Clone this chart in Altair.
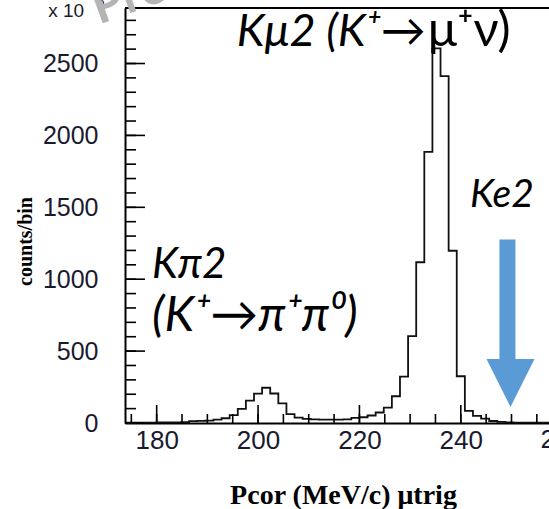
import altair as alt
import pandas as pd

# ---------------- data ----------------
bin_lo = [173.6, 175.2, 176.8, 178.4, 180.0, 181.6, 183.2, 184.8, 186.4, 188.0,
          189.6, 191.2, 192.8, 194.4, 196.0, 197.6, 199.2, 200.8, 202.4, 204.0,
          205.6, 207.2, 208.8, 210.4, 212.0, 213.6, 215.2, 216.8, 218.4, 220.0,
          221.6, 223.2, 224.8, 226.4, 228.0, 229.6, 231.2, 232.8, 234.4, 236.0,
          237.6, 239.2, 240.8, 242.4, 244.0, 245.6, 247.2, 248.8, 250.4, 252.0,
          253.6, 255.2, 256.8]
bin_hi_last = 258.4
counts = [2, 2, 3, 3, 4, 4, 5, 6, 13, 15,
          17, 24, 33, 55, 98, 156, 204, 245, 205, 136,
          62, 38, 29, 25, 24, 23, 24, 25, 35, 40,
          52, 73, 107, 186, 323, 604, 1118, 1886, 2605, 2412,
          1198, 325, 85, 50, 30, 14, 8, 4, 3, 3,
          3, 2, 2]

x_major = [180, 200, 220, 240]
x_minor = [175, 180, 185, 190, 195, 200, 205, 210, 215, 220, 225, 230,
           235, 240, 245, 250, 255]
y_major = [0, 500, 1000, 1500, 2000, 2500]
y_minor = [0, 100, 200, 300, 400, 500, 600, 700, 800, 900, 1000, 1100, 1200,
           1300, 1400, 1500, 1600, 1700, 1800, 1900, 2000, 2100, 2200, 2300,
           2400, 2500, 2600, 2700, 2800]

X_MIN, X_MAX = 173.75, 257.4
Y_MAX = 2886
W, H = 424, 415

LABEL_FONT = "Liberation Sans"
LABEL_COLOR = "#1a1a2e"
ANN_FONT = "Lato, DejaVu Sans"
BLUE = "#5b9bd5"

hist = pd.DataFrame({"x": bin_lo + [bin_hi_last], "y": counts + [counts[-1]]})

xs = alt.Scale(domain=[X_MIN, X_MAX], nice=False, zero=False)
ys = alt.Scale(domain=[0, Y_MAX], nice=False, zero=False)

XAX = alt.Axis(
    values=x_major, ticks=False, tickSize=0, grid=False, format="d",
    domainColor="black", domainWidth=2,
    labelFont=LABEL_FONT, labelFontSize=26, labelColor=LABEL_COLOR,
    labelPadding=4,
    title="Pcor (MeV/c) μtrig", titleFont="Liberation Serif",
    titleFontWeight="bold", titleFontSize=28, titleColor="black",
    titleX=218, titleY=80, titleBaseline="alphabetic", titleAlign="center")
YAX = alt.Axis(
    values=y_major, ticks=False, tickSize=0, grid=False, format="d",
    domainColor="black", domainWidth=2,
    labelFont=LABEL_FONT, labelFontSize=25, labelColor=LABEL_COLOR,
    labelPadding=27,
    title="counts/bin", titleFont="Liberation Serif",
    titleFontWeight="bold", titleFontSize=20, titleColor="black",
    titleAngle=270, titleX=-100, titleY=233,
    titleBaseline="middle", titleAlign="center")


def X(field):
    return alt.X(field, scale=xs, axis=XAX)


def Y(field):
    return alt.Y(field, scale=ys, axis=YAX)


line = alt.Chart(hist).mark_line(
    interpolate="step-after", color="#111111", strokeWidth=1.8, clip=True
).encode(x=X("x:Q"), y=Y("y:Q"))

xt_minor = alt.Chart(pd.DataFrame({"v": x_minor})).mark_rule(
    color="black", strokeWidth=1.6).encode(
    x=X("v:Q"), y=alt.value(H), y2=alt.value(H - 9))
xt_major = alt.Chart(pd.DataFrame({"v": x_major})).mark_rule(
    color="black", strokeWidth=1.6).encode(
    x=X("v:Q"), y=alt.value(H), y2=alt.value(H - 18))
yt_minor = alt.Chart(pd.DataFrame({"v": y_minor})).mark_rule(
    color="black", strokeWidth=1.6).encode(
    y=Y("v:Q"), x=alt.value(0), x2=alt.value(11))
yt_major = alt.Chart(pd.DataFrame({"v": y_major})).mark_rule(
    color="black", strokeWidth=1.6).encode(
    y=Y("v:Q"), x=alt.value(0), x2=alt.value(20))

top_line = alt.Chart(pd.DataFrame({"v": [Y_MAX]})).mark_rule(
    color="black", strokeWidth=2).encode(
    y=Y("v:Q"), x=alt.value(0), x2=alt.value(W))


def text_layer(df, **kw):
    return alt.Chart(df).mark_text(clip=False, **kw).encode(
        x=X("x:Q"), y=Y("y:Q"), text="t:N")


# partial "260" label at the cut right edge
lbl260 = text_layer(pd.DataFrame({"x": [260], "y": [-27.8], "t": ["260"]}),
                    font=LABEL_FONT, fontSize=26, color=LABEL_COLOR,
                    align="center", baseline="top")

exp_main = text_layer(pd.DataFrame({"x": [158.6], "y": [2825], "t": ["x 10"]}),
                      font=LABEL_FONT, fontSize=19, color=LABEL_COLOR,
                      align="left", baseline="alphabetic")
exp_sup = text_layer(pd.DataFrame({"x": [168.3], "y": [2880], "t": ["2"]}),
                     font=LABEL_FONT, fontSize=13, color=LABEL_COLOR,
                     align="left", baseline="alphabetic")

watermark = text_layer(pd.DataFrame({"x": [168.6], "y": [2770], "t": ["Prel"]}),
                       font="Lato, DejaVu Sans", fontSize=50, fontWeight="bold",
                       color="#b4b4b4", angle=340, align="left",
                       baseline="alphabetic")

kmu_a = text_layer(pd.DataFrame({"x": [195.8], "y": [2620], "t": ["Kμ2 (K⁺→"]}),
                   font=ANN_FONT, fontSize=45, fontStyle="italic", color="black",
                   align="left", baseline="alphabetic")
kmu_b = text_layer(pd.DataFrame({"x": [233.5], "y": [2620], "t": ["μ⁺ν)"]}),
                   font=ANN_FONT, fontSize=49, color="black",
                   align="left", baseline="alphabetic")
ke2 = text_layer(pd.DataFrame({"x": [241.8], "y": [1499], "t": ["Ke2"]}),
                 font=ANN_FONT, fontSize=39, fontStyle="italic", color="black",
                 align="left", baseline="alphabetic")
kpi_a = text_layer(pd.DataFrame({"x": [179.1], "y": [1008], "t": ["Kπ2"]}),
                   font=ANN_FONT, fontSize=42, fontStyle="italic", color="black",
                   align="left", baseline="alphabetic")
kpi_b = text_layer(pd.DataFrame({"x": [179.1], "y": [638], "t": ["(K⁺→π⁺π⁰)"]}),
                   font=ANN_FONT, fontSize=48, fontStyle="italic", color="black",
                   align="left", baseline="alphabetic")

# blue arrow pointing at Ke2 region
shaft = alt.Chart(pd.DataFrame({"x": [249.2], "y": [1276], "y2": [435]})).mark_rule(
    color=BLUE, strokeWidth=16, strokeCap="butt").encode(
    x=X("x:Q"), y=Y("y:Q"), y2="y2:Q")
head = alt.Chart(pd.DataFrame({"x": [249.8], "y": [278]})).mark_point(
    shape="M-1,-1L1,-1L0,1Z", size=2304, filled=True, color=BLUE, opacity=1,
    strokeWidth=0).encode(x=X("x:Q"), y=Y("y:Q"))

chart = alt.layer(
    line, xt_minor, xt_major, yt_minor, yt_major, top_line,
    lbl260, exp_main, exp_sup, watermark,
    kmu_a, kmu_b, ke2, kpi_a, kpi_b, shaft, head,
).properties(
    width=W, height=H,
    autosize=alt.AutoSizeParams(type="none"),
    padding={"left": 125, "top": 8, "right": 0, "bottom": 86},
    background="white",
).configure_view(strokeWidth=0)

chart.save("out.html", embed_options={"renderer": "svg", "actions": False})
